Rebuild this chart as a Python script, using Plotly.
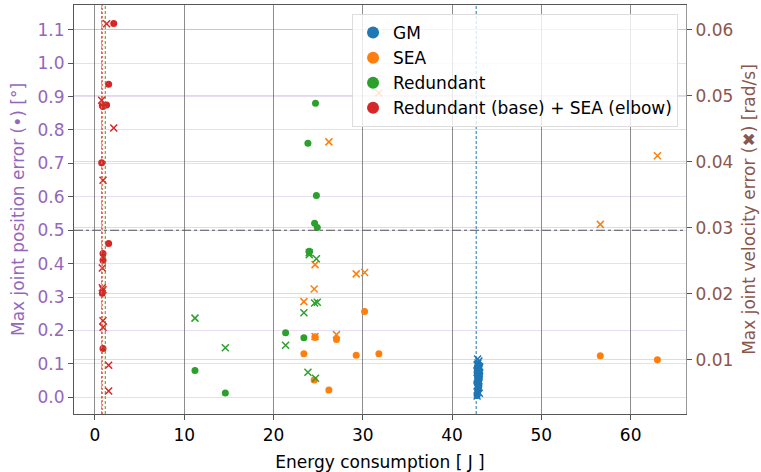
import plotly.graph_objects as go

# ---- data ----
gm_energy = [42.8, 42.85, 42.9, 42.95, 43.0, 42.8, 42.9, 43.05, 42.85, 42.95,
             43.1, 42.8, 42.9, 43.0, 42.85, 43.05, 42.9, 42.95, 43.0, 42.8]
gm_pos = [0.005, 0.012, 0.020, 0.028, 0.035, 0.041, 0.048, 0.055, 0.061, 0.066,
          0.071, 0.076, 0.081, 0.086, 0.091, 0.096, 0.100, 0.058, 0.073, 0.088]
gm_vel = [0.0045, 0.0052, 0.0058, 0.0063, 0.0068, 0.0072, 0.0075, 0.0079, 0.0083, 0.0086,
          0.0089, 0.0092, 0.0095, 0.0098, 0.0101, 0.0049, 0.0070, 0.0081, 0.0090, 0.0060]

sea_energy = [23.4, 24.55, 24.65, 24.65, 26.2, 27.05, 29.26, 30.2, 31.8, 56.6, 63.0]
sea_pos = [0.130, 0.052, 0.181, 0.179, 0.022, 0.173, 0.126, 0.257, 0.130, 0.124, 0.112]
sea_vel = [0.0188, 0.0207, 0.0135, 0.0244, 0.0430, 0.0138, 0.0230, 0.0232, 0.0504, 0.0305, 0.0409]

green_energy = [11.2, 14.6, 21.35, 23.4, 23.85, 24.0, 24.0, 24.6, 24.7, 24.8, 24.9]
green_pos = [0.080, 0.013, 0.193, 0.178, 0.760, 0.437, 0.433, 0.521, 0.880, 0.604, 0.508]
green_vel = [0.0163, 0.0118, 0.0122, 0.0171, 0.0081, 0.0259, 0.0262, 0.0186, 0.0072, 0.0253, 0.0187]

red_energy = [2.1, 1.53, 1.53, 1.3, 0.75, 0.82, 0.82, 0.9, 0.9, 0.9, 0.9]
red_pos = [1.119, 0.937, 0.46, 0.875, 0.702, 0.873, 0.311, 0.870, 0.43, 0.41, 0.146]
red_vel = [0.0451, 0.00915, 0.00525, 0.0609, 0.0493, 0.0239, 0.0209, 0.0372, 0.0206, 0.0159, 0.0149]

series = [
    ("GM", "#1f77b4", gm_energy, gm_pos, gm_vel),
    ("SEA", "#ff7f0e", sea_energy, sea_pos, sea_vel),
    ("Redundant", "#2ca02c", green_energy, green_pos, green_vel),
    ("Redundant (base) + SEA (elbow)", "#d62728", red_energy, red_pos, red_vel),
]

vlines = [(0.75, "#ff7f0e", "3px,2px"), (0.8, "#d62728", "2px,2px"), (1.15, "#2ca02c", "3px,2px"), (42.7, "#1f77b4", "3px,2px")]
hline_pos = 0.5

x_ticks = [0, 10, 20, 30, 40, 50, 60]
y_ticks = [0.0, 0.1, 0.2, 0.3, 0.4, 0.5, 0.6, 0.7, 0.8, 0.9, 1.0, 1.1]
y2_ticks = [0.01, 0.02, 0.03, 0.04, 0.05, 0.06]

FONT = "DejaVu Sans"
PURPLE = "#9467bd"
BROWN = "#8c564b"

fig = go.Figure()
for name, col, e, p, v in series:
    fig.add_trace(go.Scatter(x=e, y=v, mode="markers", yaxis="y2", showlegend=False,
                             marker=dict(symbol="x-thin", size=7, line=dict(color=col, width=1.5), color=col)))
for name, col, e, p, v in series:
    fig.add_trace(go.Scatter(x=e, y=p, mode="markers", name=name,
                             marker=dict(symbol="circle", size=7, color=col)))

shapes = []
for xv, col, dash in vlines:
    shapes.append(dict(type="line", xref="x", yref="paper", x0=xv, x1=xv, y0=0, y1=1,
                       line=dict(color=col, width=1, dash=dash), layer="above"))
shapes.append(dict(type="line", xref="paper", yref="y", x0=0, x1=1, y0=hline_pos, y1=hline_pos,
                   line=dict(color="#555555", width=1.1, dash="dashdot"), layer="above"))

fig.update_layout(
    width=761, height=472,
    margin=dict(l=74, r=75, t=4, b=54),
    paper_bgcolor="white", plot_bgcolor="white",
    font=dict(family=FONT, size=17, color="black"),
    shapes=shapes,
    xaxis=dict(range=[-2.35, 66.2], tickvals=x_ticks, showgrid=True, gridcolor="rgba(0,0,0,0.45)",
               gridwidth=1, zeroline=False, showline=True, linecolor="#555", linewidth=1.2, mirror=True,
               ticks="outside", ticklen=5, tickcolor="#555",
               title=dict(text="Energy consumption [ J ]", font=dict(size=17), standoff=12)),
    yaxis=dict(range=[-0.05, 1.174], tickvals=y_ticks, tickformat=".1f", showgrid=True,
               gridcolor="rgba(148,103,189,0.22)", zeroline=False, showline=True, linecolor="#555",
               linewidth=1.2, ticks="outside", ticklen=5, tickcolor="#555",
               tickfont=dict(color=PURPLE, size=17),
               title=dict(text="Max joint position error (•) [°]", font=dict(color=PURPLE, size=17), standoff=8)),
    yaxis2=dict(range=[0.00177, 0.06374], tickvals=y2_ticks, tickformat=".2f", overlaying="y", side="right",
                showgrid=True, gridcolor="rgba(140,86,75,0.22)", zeroline=False, showline=True,
                linecolor="#999", linewidth=1.2, ticks="outside", ticklen=5, tickcolor="#555",
                tickfont=dict(color=BROWN, size=17),
                title=dict(text="Max joint velocity error (✖) [rad/s]", font=dict(color=BROWN, size=17), standoff=10)),
    legend=dict(x=0.987, y=0.978, xanchor="right", yanchor="top", bgcolor="rgba(255,255,255,0.8)",
                bordercolor="#dddddd", borderwidth=1, font=dict(size=17), itemsizing="constant",
                tracegroupgap=0),
)

fig.write_html("out.html")
